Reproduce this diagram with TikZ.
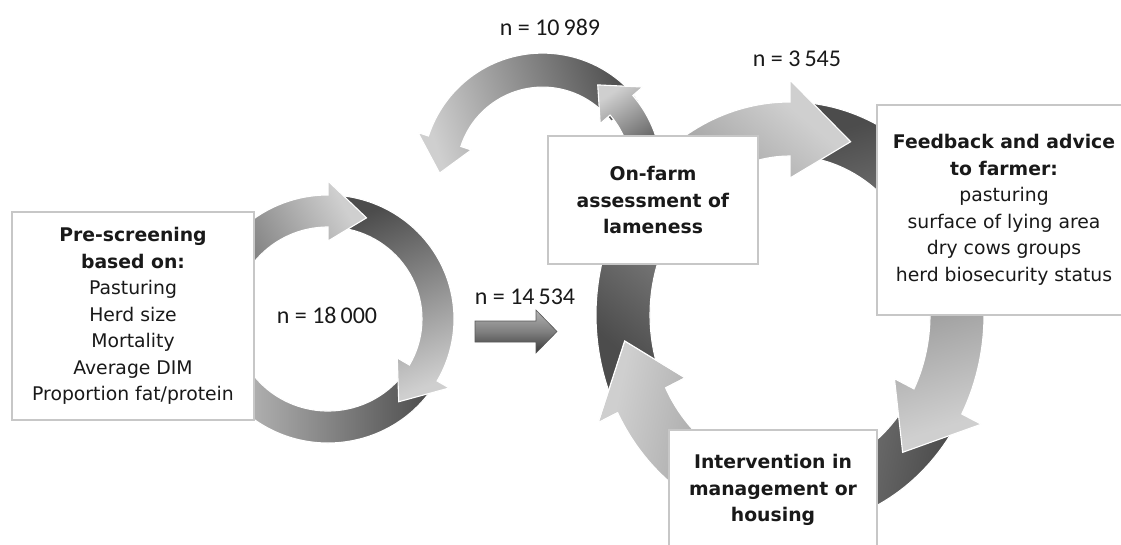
\documentclass[tikz,border=0pt]{standalone}
\usepackage{fontspec}
\setmainfont{DejaVu Sans}
\newfontfamily\numfont{Carlito}
\usetikzlibrary{calc}
% #1 a, #2 b (mid radii), #3 body half width, #4 head half width, #5 tail angle, #6 head base angle, #7 tip angle
\newcommand\cycdef[7]{%
 \pgfmathsetmacro\cAO{#1+#3}\pgfmathsetmacro\cBO{#2+#3}%
 \pgfmathsetmacro\cAI{#1-#3}\pgfmathsetmacro\cBI{#2-#3}%
 \pgfmathsetmacro\cAH{#1+#4}\pgfmathsetmacro\cBH{#2+#4}%
 \pgfmathsetmacro\cAJ{#1-#4}\pgfmathsetmacro\cBJ{#2-#4}%
 \edef\cycpath{(#5:\cAO\space and \cBO) arc[start angle=#5, end angle=#6, x radius=\cAO, y radius=\cBO] -- (#6:\cAH\space and \cBH) -- (#7:#1 and #2) -- (#6:\cAJ\space and \cBJ) -- (#6:\cAI\space and \cBI) arc[start angle=#6, end angle=#5, x radius=\cAI, y radius=\cBI] -- cycle}%
 \edef\cycedge{(#6:\cAO\space and \cBO) -- (#6:\cAH\space and \cBH) -- (#7:#1 and #2) -- (#6:\cAJ\space and \cBJ) -- (#6:\cAI\space and \cBI)}%
 \edef\cychead{(#6:\cAH\space and \cBH) -- (#7:#1 and #2) -- (#6:\cAJ\space and \cBJ) -- cycle}%
}
\begin{document}
\begin{tikzpicture}[x=1pt,y=-1pt,
  box/.style={draw=black!22, line width=1.3pt, fill=white, align=center, text=black!90, inner sep=0pt},
  btext/.style={font=\fontsize{18.8}{26.5}\selectfont},
  nlab/.style={font=\numfont\fontsize{24}{28}\selectfont, text=black!90, inner sep=0pt},
  cyc/.style={draw=white, line width=1.1pt, top color=black!19, bottom color=black!70, shading angle=#1},
  headedge/.style={draw=white, line width=1.1pt, line join=miter},
  midarrow/.style={top color=black!30, bottom color=black!78, middle color=black!50, draw=black!65, line width=0.6pt}
]
\useasboundingbox (0,0) rectangle (1121,545);
\clip (0,0) rectangle (1121,545);

% top loop
\begin{scope}[shift={(542.6,173.1)}]
 \cycdef{103}{103}{17}{28}{323}{198}{180}
 \path[cyc=108] \cycpath;
 \cycdef{104}{104}{15}{28}{355}{319.3}{302}
 \path[cyc=33] \cycpath;
\end{scope}

% left cycle
\begin{scope}[shift={(328,319)}]
 \cycdef{110}{108}{16}{30}{36}{162}{182}
 \path[cyc=90] \cycpath;
 \cycdef{110}{108}{16}{30}{276}{390}{410}
 \path[cyc=-158] \cycpath;
 \cycdef{110}{108}{16}{30}{160}{270}{290.5}
 \path[cyc=-60] \cycpath;
\end{scope}

% right cycle
\begin{scope}[shift={(790,315)}]
 \cycdef{167}{186}{27}{49}{32}{152.7}{172}
 \path[cyc=78] \cycpath;
 \cycdef{167}{186}{27}{49}{274}{387.7}{407.6}
 \path[cyc=-162.6] \cycpath;
 \cycdef{167}{186}{27}{49}{157}{270}{291.3}
 \path[cyc=-40] \cycpath;
 \cycdef{167}{186}{27}{49}{32}{152.7}{172}
 \begin{scope}
  \clip \cychead;
  \path[cyc=78] \cycpath;
 \end{scope}
 \path[headedge] \cycedge;
\end{scope}

% middle block arrow
\coordinate (ma) at (475,331.5);
\coordinate (mb) at (557,331.5);
\path[midarrow] (ma) ++(0,-10.5) -- (536,321) -- (536,310) -- (mb) -- (536,353) -- (536,342) -- (475,342) -- cycle;

% boxes
\node[box, btext, minimum width=242pt, minimum height=208pt] (pre) at (133,316)
 {\textbf{Pre-screening}\\\textbf{based on:}\\Pasturing\\Herd size\\Mortality\\Average DIM\\Proportion fat/protein};
\node[box, btext, minimum width=210pt, minimum height=128pt] (onfarm) at (653,200)
 {\textbf{On-farm}\\\textbf{assessment of}\\\textbf{lameness}};
\node[box, btext, minimum width=254pt, minimum height=210pt] (feedback) at (1004,210)
 {\textbf{Feedback and advice}\\\textbf{to farmer:}\\pasturing\\surface of lying area\\dry cows groups\\herd biosecurity status};
\node[box, btext, minimum width=208pt, minimum height=120pt] (interv) at (773,490)
 {\textbf{Intervention in}\\\textbf{management or}\\\textbf{housing}};

% counts
\node[nlab] (n10989) at (550,27) {n = 10\,989};
\node[nlab] (n3545) at (797,59) {n = 3\,545};
\node[nlab] (n18000) at (327,315) {n = 18\,000};
\node[nlab] (n14534) at (525,297) {n = 14\,534};
\end{tikzpicture}
\end{document}
